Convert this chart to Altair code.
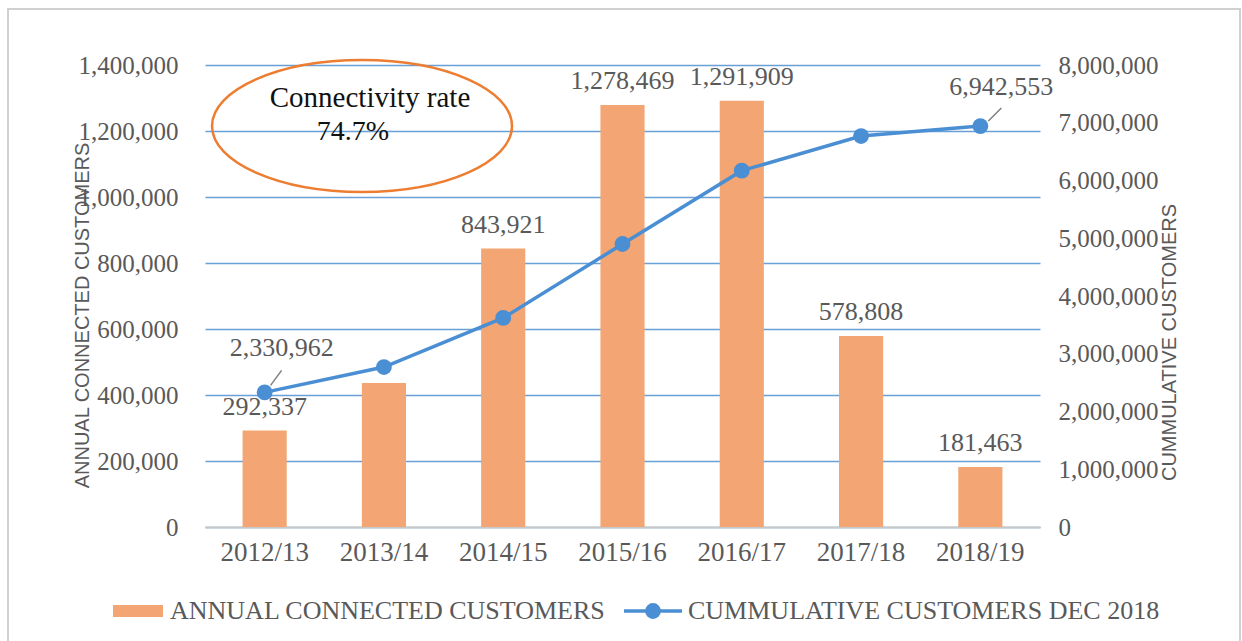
import altair as alt
import pandas as pd

years = ["2012/13", "2013/14", "2014/15", "2015/16", "2016/17", "2017/18", "2018/19"]
annual = [292337, 436000, 843921, 1278469, 1291909, 578808, 181463]
cumulative = [2330962, 2770000, 3620000, 4900000, 6170000, 6770000, 6942553]
annual_labels = ["292,337", "", "843,921", "1,278,469", "1,291,909", "578,808", "181,463"]
cum_labels = ["2,330,962", "", "", "", "", "", "6,942,553"]
left_ticks = [0, 200000, 400000, 600000, 800000, 1000000, 1200000, 1400000]
right_ticks = [0, 1000000, 2000000, 3000000, 4000000, 5000000, 6000000, 7000000, 8000000]

df = pd.DataFrame({"year": years, "annual": annual, "cum": cumulative,
                   "alab": annual_labels, "clab": cum_labels})

SERIF = "Liberation Serif"
SANS = "Liberation Sans"
GRAY = "#595959"
ORANGE = "#F3A573"
BLUE = "#4A8ED3"
GRID = "#4F8FD0"

W, H = 835, 462
LEFT, TOP = 205, 65

x_enc = alt.X("year:N", sort=years,
              scale=alt.Scale(paddingInner=0.63, paddingOuter=0.315),
              axis=alt.Axis(title=None, labelAngle=0, labelFont=SERIF, labelFontSize=27,
                            labelColor=GRAY, labelPadding=12, ticks=False,
                            domainColor="#C8C8C8", domainWidth=2, grid=False))

y_left = alt.Y("annual:Q", scale=alt.Scale(domain=[0, 1400000], nice=False),
               axis=alt.Axis(values=left_ticks, format=",.0f", title="ANNUAL CONNECTED CUSTOMERS",
                             titleFont=SANS, titleFontSize=20, titleFontWeight="normal",
                             titleColor=GRAY, titleAngle=270, titleX=-123, titleY=250,
                             titleAlign="center", titleBaseline="middle",
                             labelFont=SERIF, labelFontSize=25, labelColor=GRAY,
                             labelPadding=27, ticks=False, domain=False,
                             grid=True, gridColor=GRID, gridOpacity=0.85, gridWidth=1.5))

y_right = alt.Y("cum:Q", scale=alt.Scale(domain=[0, 8000000], nice=False),
                axis=alt.Axis(orient="right", values=right_ticks, format=",.0f",
                              title="CUMMULATIVE CUSTOMERS",
                              titleFont=SANS, titleFontSize=20, titleFontWeight="normal",
                              titleColor=GRAY, titleAngle=270, titleX=129, titleY=277,
                              titleAlign="center", titleBaseline="middle",
                              labelFont=SERIF, labelFontSize=25, labelColor=GRAY,
                              labelPadding=18, ticks=False, domain=False, grid=False))

base = alt.Chart(df)

bars = base.mark_bar(color=ORANGE).encode(x=x_enc, y=y_left)
bar_text = base.mark_text(font=SERIF, fontSize=26, color=GRAY, baseline="middle", dy=-24).encode(
    x=x_enc, y=y_left, text="alab:N")
left = alt.layer(bars, bar_text)

line = base.mark_line(color=BLUE, strokeWidth=3.5).encode(x=x_enc, y=y_right)
pts = base.mark_point(filled=True, color=BLUE, size=250, opacity=1).encode(x=x_enc, y=y_right)
lab1 = base.transform_filter(alt.datum.year == "2012/13").mark_text(
    font=SERIF, fontSize=26, color=GRAY, baseline="middle", dx=17, dy=-44).encode(
    x=x_enc, y=y_right, text="clab:N")
lab2 = base.transform_filter(alt.datum.year == "2018/19").mark_text(
    font=SERIF, fontSize=26, color=GRAY, baseline="middle", dx=21, dy=-39).encode(
    x=x_enc, y=y_right, text="clab:N")
lead1 = base.transform_filter(alt.datum.year == "2012/13").mark_point(
    shape="M 0.27 -0.32 L 0.77 -1", size=1936, filled=False, stroke="#7F7F7F",
    strokeWidth=1.5, opacity=1).encode(x=x_enc, y=y_right)
lead2 = base.transform_filter(alt.datum.year == "2018/19").mark_point(
    shape="M 0.38 -0.24 L 1 -0.86", size=1764, filled=False, stroke="#7F7F7F",
    strokeWidth=1.5, opacity=1).encode(x=x_enc, y=y_right)
right = alt.layer(line, pts, lead1, lead2, lab1, lab2)

one = pd.DataFrame({"t": ["x"]})

frame = alt.Chart(one).mark_rect(filled=False, stroke="#D0D0D0", strokeWidth=2).encode(
    x=alt.value(8 - LEFT), x2=alt.value(1240 - LEFT),
    y=alt.value(9 - TOP), y2=alt.value(660 - TOP))

ellipse = alt.Chart(one).mark_point(
    shape="M -1 0 A 1 0.44 0 1 0 1 0 A 1 0.44 0 1 0 -1 0 Z", size=90000,
    filled=False, stroke="#ED7D31", strokeWidth=2.5, opacity=1).encode(
    x=alt.value(362 - LEFT), y=alt.value(126 - TOP))
ann1 = alt.Chart(pd.DataFrame({"t": ["Connectivity rate"]})).mark_text(
    font=SERIF, fontSize=29, color="#111111", baseline="middle", align="center").encode(
    x=alt.value(370 - LEFT), y=alt.value(98 - TOP), text="t:N")
ann2 = alt.Chart(pd.DataFrame({"t": ["74.7%"]})).mark_text(
    font=SERIF, fontSize=28, color="#111111", baseline="middle", align="center").encode(
    x=alt.value(353 - LEFT), y=alt.value(132 - TOP), text="t:N")

LY = 611 - TOP
leg_rect = alt.Chart(one).mark_rect(color=ORANGE).encode(
    x=alt.value(113 - LEFT), x2=alt.value(163 - LEFT), y=alt.value(LY - 6), y2=alt.value(LY + 6))
leg_t1 = alt.Chart(pd.DataFrame({"t": ["ANNUAL CONNECTED CUSTOMERS"]})).mark_text(
    font=SERIF, fontSize=26, color=GRAY, baseline="middle", align="left").encode(
    x=alt.value(170 - LEFT), y=alt.value(LY), text="t:N")
leg_line = alt.Chart(one).mark_rule(color=BLUE, strokeWidth=3.5).encode(
    x=alt.value(624 - LEFT), x2=alt.value(682 - LEFT), y=alt.value(LY))
leg_pt = alt.Chart(one).mark_point(filled=True, color=BLUE, size=250, opacity=1).encode(
    x=alt.value(653 - LEFT), y=alt.value(LY))
leg_t2 = alt.Chart(pd.DataFrame({"t": ["CUMMULATIVE CUSTOMERS DEC 2018"]})).mark_text(
    font=SERIF, fontSize=26, color=GRAY, baseline="middle", align="left").encode(
    x=alt.value(688 - LEFT), y=alt.value(LY), text="t:N")

chart = alt.layer(
    frame, left, right, ellipse, ann1, ann2, leg_rect, leg_t1, leg_line, leg_pt, leg_t2
).resolve_scale(y="independent").properties(
    width=W, height=H,
    autosize=alt.AutoSizeParams(type="none"),
    padding={"left": LEFT, "top": TOP, "right": 1242 - LEFT - W, "bottom": 641 - TOP - H},
    background="white",
).configure_view(stroke=None).configure_axis(gridColor=GRID)

chart.save("out.html", embed_options={"renderer": "svg", "actions": False})
